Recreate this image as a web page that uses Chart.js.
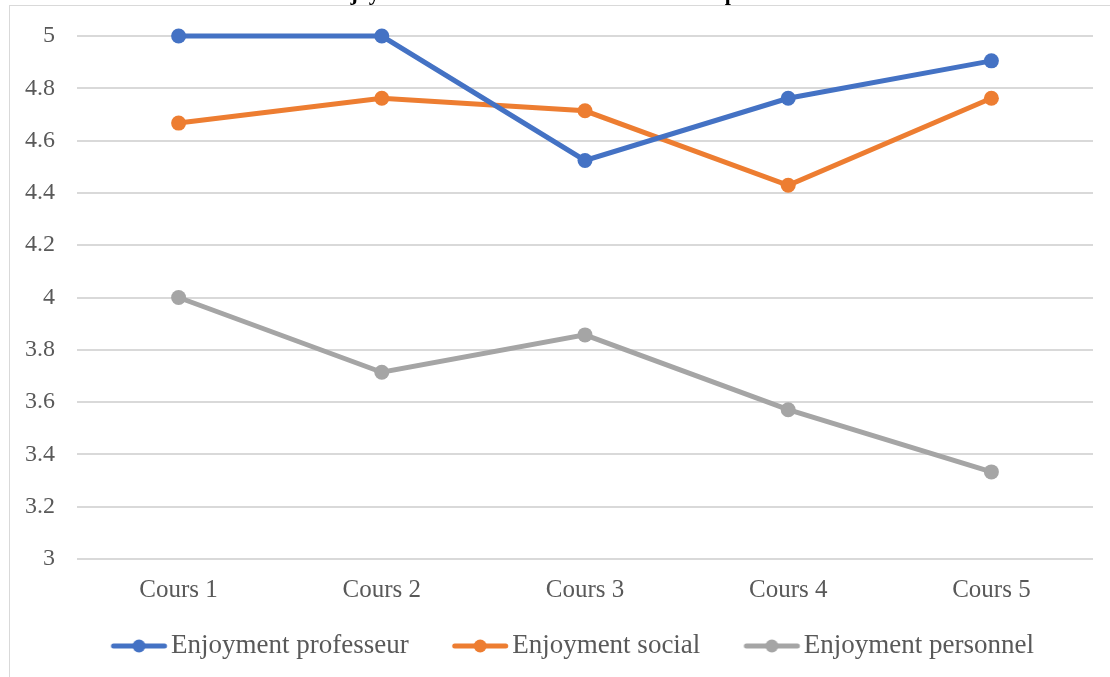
<!DOCTYPE html>
<html>
<head>
<meta charset="utf-8">
<script src="https://cdn.jsdelivr.net/npm/chart.js@4"></script>
<style>
  html, body { margin: 0; padding: 0; background: #fff; }
  #wrap { position: absolute; left: 0; top: 0; width: 1110px; height: 677px; overflow: hidden; }
  #graf { position: absolute; left: 0; top: -20px; }
  #cadre { position: absolute; left: 9px; top: 5px; width: 1120px; height: 700px; border: 1px solid #d9d9d9; pointer-events: none; }
</style>
</head>
<body>
<div id="wrap">
  <canvas id="graf" width="1110" height="697"></canvas>
  <div id="cadre"></div>
</div>
<script>
const cours = ['Cours 1', 'Cours 2', 'Cours 3', 'Cours 4', 'Cours 5'];
const enjoymentProfesseur = [5, 5, 4.524, 4.762, 4.905];
const enjoymentSocial = [4.667, 4.762, 4.714, 4.429, 4.762];
const enjoymentPersonnel = [4.0, 3.714, 3.857, 3.571, 3.333];
const etiquettesY = ['3', '3.2', '3.4', '3.6', '3.8', '4', '4.2', '4.4', '4.6', '4.8', '5'];

const couleurs = ['#4472C4', '#ED7D31', '#A5A5A5'];
const police = 'Liberation Serif, Times New Roman, serif';
const margeGauche = 20;

// ligne + point pour la legende (dessinee a droite de l'image)
function marqueur(color) {
    const c = document.createElement('canvas');
    c.width = 111;
    c.height = 16;
    const ctx = c.getContext('2d');
    ctx.strokeStyle = color;
    ctx.lineWidth = 5;
    ctx.lineCap = 'round';
    ctx.beginPath();
    ctx.moveTo(50.75, 8);
    ctx.lineTo(101.75, 8);
    ctx.stroke();
    ctx.fillStyle = color;
    ctx.beginPath();
    ctx.arc(76.25, 8, 6.5, 0, Math.PI * 2);
    ctx.fill();
    return c;
}
const marqueurs = couleurs.map(marqueur);

function serie(label, data, color) {
    return {
        label: label,
        data: data,
        borderColor: color,
        backgroundColor: color,
        borderWidth: 5,
        pointRadius: 7.5,
        pointHoverRadius: 7.5,
        pointBorderWidth: 0,
        pointBackgroundColor: color,
        tension: 0,
        clip: false
    };
}

new Chart(document.getElementById('graf'), {
    type: 'line',
    data: {
        labels: cours,
        datasets: [
            serie('Enjoyment professeur', enjoymentProfesseur, couleurs[0]),
            serie('Enjoyment social', enjoymentSocial, couleurs[1]),
            serie('Enjoyment personnel', enjoymentPersonnel, couleurs[2])
        ]
    },
    options: {
        responsive: false,
        animation: false,
        layout: { padding: { left: margeGauche, right: 17, top: 0, bottom: 7.5 } },
        plugins: {
            title: {
                display: true,
                text: 'Enjoyment des élèves au fil des différentes parties',
                color: '#000',
                font: { family: police, size: 22, weight: 'bold' },
                padding: { top: 1, bottom: 28.6 }
            },
            legend: {
                position: 'bottom',
                labels: {
                    usePointStyle: true,
                    pointStyleWidth: 78.5,
                    padding: 11.5,
                    color: '#595959',
                    font: { family: police, size: 27 },
                    generateLabels: function (chart) {
                        const items = Chart.defaults.plugins.legend.labels.generateLabels(chart);
                        items.forEach((it, i) => { it.pointStyle = marqueurs[i]; });
                        return items;
                    }
                }
            },
            tooltip: { enabled: false }
        },
        scales: {
            x: {
                offset: true,
                grid: { display: false, drawTicks: false },
                border: { display: false },
                ticks: { color: '#595959', padding: 16, font: { family: police, size: 25 } }
            },
            y: {
                min: 3,
                max: 5,
                afterFit: function (s) { s.width = 77 - margeGauche; },
                grid: { color: '#d9d9d9', lineWidth: 2, drawTicks: false },
                border: { display: false },
                ticks: {
                    stepSize: 0.2,
                    padding: 22,
                    color: '#595959',
                    font: { family: police, size: 24 },
                    callback: function (v, i) { return etiquettesY[i]; }
                }
            }
        }
    }
});
</script>
</body>
</html>
